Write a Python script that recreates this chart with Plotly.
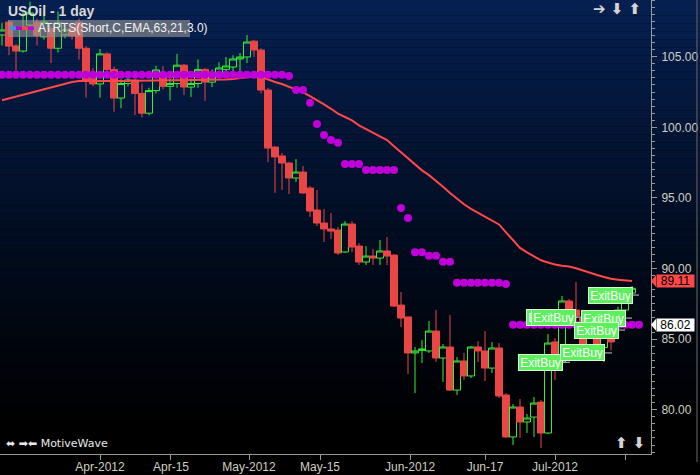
import plotly.graph_objects as go

# ---------------- data ----------------
bar_index = list(range(91))
opens = [106.54, 107.45, 105.76, 105.40, 107.24, 107.45, 106.40, 107.00, 105.60, 106.55,
         107.00, 107.45, 105.60, 103.50, 103.07, 105.20, 104.10, 102.07, 103.10, 103.35,
         102.40, 101.00, 102.60, 103.85, 102.90, 103.10, 104.40, 102.85, 103.10, 104.10,
         103.20, 103.56, 104.10, 104.27, 104.84, 104.98, 106.10, 105.47, 102.64, 98.60,
         97.97, 97.47, 96.41, 96.83, 95.70, 94.14, 93.22, 92.80, 92.72, 91.17,
         93.15, 91.59, 90.46, 90.88, 90.74, 91.24, 90.95, 87.41, 86.57, 84.02,
         84.20, 84.16, 85.57, 83.66, 84.44, 81.39, 83.45, 82.39, 84.44, 84.16,
         82.95, 84.37, 81.04, 78.07, 80.19, 79.13, 79.48, 80.54, 78.35, 84.80,
         83.38, 87.70, 87.06, 86.50, 84.30, 85.60, 84.40, 85.80, 85.80, 87.06,
         88.26]
highs = [107.40, 107.60, 105.90, 108.30, 108.90, 107.70, 108.20, 107.20, 108.20, 107.00,
         107.30, 107.70, 105.75, 104.20, 105.55, 105.30, 104.30, 103.40, 103.50, 103.45,
         103.10, 102.80, 104.34, 104.34, 103.50, 105.20, 104.50, 103.35, 104.80, 104.20,
         104.10, 104.60, 104.98, 105.10, 105.26, 106.54, 106.20, 105.60, 102.78, 98.65,
         98.18, 97.55, 97.75, 97.26, 95.84, 95.56, 94.21, 93.93, 92.94, 93.36,
         93.36, 91.80, 91.59, 91.38, 92.02, 92.23, 91.00, 88.34, 86.60, 84.44,
         84.93, 86.28, 87.06, 84.65, 86.71, 83.73, 84.02, 84.50, 84.86, 85.57,
         84.79, 84.72, 81.18, 80.40, 80.76, 79.70, 80.90, 80.70, 85.36, 85.08,
         88.05, 87.84, 89.04, 86.90, 86.00, 85.90, 86.20, 86.80, 87.30, 87.90,
         88.76]
lows = [105.80, 105.10, 103.90, 105.30, 107.10, 105.80, 106.20, 104.55, 105.30, 106.30,
        106.20, 104.80, 102.10, 102.90, 102.10, 103.90, 101.10, 101.35, 102.90, 100.87,
        100.70, 100.85, 102.40, 102.70, 101.90, 102.80, 102.30, 102.15, 102.80, 101.86,
        102.85, 103.35, 103.56, 103.85, 103.90, 104.55, 104.98, 102.40, 97.54, 95.35,
        95.56, 95.28, 96.13, 95.28, 93.65, 93.00, 91.88, 92.09, 90.96, 91.10,
        91.17, 90.25, 90.25, 90.25, 90.25, 90.25, 87.27, 85.86, 82.53, 81.18,
        83.30, 84.02, 83.38, 81.96, 81.32, 81.04, 82.10, 82.24, 83.38, 82.03,
        82.60, 80.83, 78.00, 77.50, 78.00, 78.35, 78.07, 77.29, 78.28, 82.10,
        83.30, 86.20, 86.00, 84.20, 83.90, 84.20, 83.38, 84.20, 85.50, 86.90,
        88.20]
closes = [106.89, 105.75, 105.40, 107.10, 108.10, 106.50, 107.45, 105.60, 107.40, 106.90,
          106.50, 105.60, 103.35, 103.07, 105.20, 104.10, 102.07, 103.10, 103.35, 102.40,
          101.00, 102.60, 104.06, 102.90, 103.10, 104.40, 102.85, 103.10, 104.10, 103.20,
          103.56, 104.20, 104.34, 104.84, 104.98, 106.04, 105.47, 102.64, 98.53, 97.90,
          97.47, 96.41, 96.83, 95.35, 94.07, 93.22, 92.80, 92.65, 91.10, 93.15,
          91.52, 90.46, 90.88, 90.74, 91.24, 90.88, 87.34, 86.49, 84.02, 84.16,
          84.30, 85.57, 83.66, 84.44, 81.39, 83.45, 82.39, 84.44, 84.16, 82.95,
          84.37, 80.97, 78.07, 80.19, 79.13, 79.41, 80.47, 78.35, 84.72, 83.30,
          87.70, 86.92, 86.64, 84.45, 85.50, 84.45, 85.70, 84.80, 87.06, 87.63,
          88.60]

ema_values = [101.92, 102.05, 102.17, 102.29, 102.42, 102.55, 102.68, 102.80, 102.92, 103.07,
              103.21, 103.28, 103.29, 103.29, 103.29, 103.28, 103.28, 103.28, 103.28, 103.28,
              103.28, 103.29, 103.31, 103.32, 103.33, 103.34, 103.34, 103.34, 103.35, 103.36,
              103.36, 103.38, 103.39, 103.42, 103.50, 103.59, 103.62, 103.58, 103.39, 103.21,
              103.07, 102.88, 102.70, 102.48, 102.20, 101.93, 101.62, 101.31, 100.97, 100.73,
              100.49, 100.14, 99.87, 99.62, 99.35, 99.10, 98.65, 98.21, 97.78, 97.34,
              96.95, 96.61, 96.22, 95.79, 95.35, 94.95, 94.55, 94.23, 93.96, 93.70,
              93.41, 93.12, 92.56, 91.99, 91.46, 91.14, 90.85, 90.58, 90.43, 90.28,
              90.20, 90.14, 90.02, 89.85, 89.69, 89.54, 89.40, 89.27, 89.21, 89.16,
              89.11]

atrts_index = list(range(92))
atrts_values = [103.72, 103.72, 103.72, 103.72, 103.72, 103.72, 103.72, 103.72, 103.72, 103.72,
                103.72, 103.72, 103.72, 103.72, 103.72, 103.72, 103.72, 103.72, 103.72, 103.72,
                103.72, 103.72, 103.72, 103.72, 103.72, 103.72, 103.72, 103.72, 103.72, 103.72,
                103.72, 103.72, 103.72, 103.72, 103.72, 103.72, 103.72, 103.72, 103.72, 103.72,
                103.72, 103.63, 102.64, 102.64, 101.74, 100.23, 99.45, 99.10, 98.91, 97.40,
                97.40, 97.40, 96.97, 96.97, 96.97, 96.97, 96.97, 94.28, 93.58, 91.15,
                91.15, 90.91, 90.91, 90.48, 90.48, 88.99, 88.99, 88.99, 88.99, 88.99,
                88.99, 88.99, 88.90, 86.02, 86.02, 86.02, 86.02, 86.02, 86.02, 86.02,
                86.02, 86.02, 86.02, 86.02, 86.02, 86.02, 86.02, 86.02, 86.02, 86.02,
                86.02, 86.02]

exit_bar = [82.2, 82.86, 81.14, 87.14, 90.0, 89.0, 91.0]
exit_price = [86.53, 86.56, 83.36, 84.02, 86.49, 85.64, 88.12]
exit_text = "ExitBuy"

date_tick_pos = [14.0, 24.14, 35.29, 45.43, 58.29, 69.0, 79.0, 89.0]
date_tick_text = ["Apr-2012", "Apr-15", "May-2012", "May-15", "Jun-2012", "Jun-17", "Jul-2012", ""]

last_ema = 89.11
last_stop = 86.02

title_text = "USOil - 1 day"
legend_text = "ATRTS(Short,C,EMA,63,21,3.0)"
brand_text = "MotiveWave"

# ---------------- figure ----------------
W, H = 700, 475
ML, MR, MT, MB = 0, 49, 0, 21
PW, PH = W - ML - MR, H - MT - MB

RED = "#ea4646"
GREEN = "#36ee36"
AXIS_TXT = "#cfcfc0"
AXIS_LINE = "#9a9a90"

fig = go.Figure()

fig.add_trace(go.Candlestick(
    x=bar_index, open=opens, high=highs, low=lows, close=closes,
    increasing=dict(line=dict(color=GREEN, width=1), fillcolor="rgba(0,0,0,0)"),
    decreasing=dict(line=dict(color=RED, width=1), fillcolor=RED),
    whiskerwidth=0, showlegend=False, hoverinfo="skip",
))

fig.add_trace(go.Scatter(
    x=bar_index, y=ema_values, mode="lines",
    line=dict(color="#ff4848", width=2), showlegend=False, hoverinfo="skip",
))

fig.add_trace(go.Scatter(
    x=atrts_index, y=atrts_values, mode="markers",
    marker=dict(color="#c000d8", size=8, line=dict(width=0)),
    showlegend=False, hoverinfo="skip",
))

# background gradient (styling bands)
shapes = []
N = 60
top = (6, 32, 82)
for k in range(N):
    y0p = k * (H / N)
    y1p = (k + 1) * (H / N)
    t = (y0p + y1p) / 2 / 440.0
    f = max(0.0, 1 - t) ** 1.15
    col = "rgb(%d,%d,%d)" % tuple(int(c * f) for c in top)
    shapes.append(dict(type="rect", xref="paper", yref="paper", layer="below",
                       x0=-0.01, x1=W / PW + 0.01,
                       y0=1 - y1p / PH, y1=1 - y0p / PH,
                       fillcolor=col, line=dict(width=0)))

def px_x(x):
    return (x - ML) / PW

def px_y(y):
    return 1 - (y - MT) / PH

# legend box and swatch
shapes.append(dict(type="rect", xref="paper", yref="paper", layer="above",
                   x0=px_x(8), x1=px_x(190), y0=px_y(37), y1=px_y(20),
                   fillcolor="rgba(150,150,150,0.62)", line=dict(width=0)))
for (a, b, c) in [(10, 16, "#3a90f0"), (16, 22, "#b000d0"), (22, 28, "#ff4040"), (28, 34, "#c000e0")]:
    shapes.append(dict(type="rect", xref="paper", yref="paper", layer="above",
                       x0=px_x(a), x1=px_x(b), y0=px_y(30), y1=px_y(26.5),
                       fillcolor=c, line=dict(width=0)))

# price flag pointers on right axis
for val, col in [(last_ema, "#ff4848"), (last_stop, "#ffffff")]:
    shapes.append(dict(type="path", xref="paper", yref="y", layer="above",
                       xsizemode="pixel", ysizemode="pixel", xanchor=1, yanchor=val,
                       path="M 0,0 L 5,6 L 5,-6 Z", fillcolor=col, line=dict(width=0)))

# outer frame line (right)
shapes.append(dict(type="line", xref="paper", yref="paper", layer="above",
                   x0=px_x(697), x1=px_x(697), y0=px_y(0), y1=px_y(462),
                   line=dict(color="#6a6a66", width=1)))

annotations = []
annotations.append(dict(xref="paper", yref="paper", x=px_x(6), y=px_y(11),
                        xanchor="left", yanchor="middle", showarrow=False,
                        text="<b>" + title_text + "</b>",
                        font=dict(family="Liberation Sans, Arial", size=14, color="#d8d8d8")))
annotations.append(dict(xref="paper", yref="paper", x=px_x(36), y=px_y(28.5),
                        xanchor="left", yanchor="middle", showarrow=False,
                        text=legend_text,
                        font=dict(family="Liberation Sans, Arial", size=12, color="#f2f2f2")))
annotations.append(dict(xref="paper", yref="paper", x=px_x(4), y=px_y(443),
                        xanchor="left", yanchor="middle", showarrow=False,
                        text="⬌ ➡⬅ " + brand_text,
                        font=dict(family="DejaVu Sans, Liberation Sans", size=11, color="#e8e8e8")))
annotations.append(dict(xref="paper", yref="paper", x=px_x(643), y=px_y(9),
                        xanchor="right", yanchor="middle", showarrow=False,
                        text="<b>➔ ⬇ ⬆</b>",
                        font=dict(family="DejaVu Sans", size=15, color="#d4d4d4")))
annotations.append(dict(xref="paper", yref="paper", x=px_x(647), y=px_y(443),
                        xanchor="right", yanchor="middle", showarrow=False,
                        text="<b>⬆ ⬇</b>",
                        font=dict(family="DejaVu Sans", size=15, color="#d4d4d4")))

for bx, pr in zip(exit_bar, exit_price):
    annotations.append(dict(x=bx, y=pr, xref="x", yref="y", text=exit_text,
                            showarrow=True, arrowhead=0, arrowwidth=1, arrowcolor="#c8c8c8",
                            ax=-29, ay=0, standoff=0,
                            bgcolor="#5df05d", bordercolor="#d8f5d8", borderwidth=1, borderpad=1,
                            width=41, height=13,
                            font=dict(family="Liberation Sans, Arial", size=12, color="#ffffff")))

for val, bg in [(last_ema, "#ff4848"), (last_stop, "#ffffff")]:
    annotations.append(dict(xref="paper", yref="y", x=1, y=val, xshift=5,
                            xanchor="left", yanchor="middle", showarrow=False,
                            text="%.2f" % val, bgcolor=bg, borderpad=0, width=37, height=12,
                            font=dict(family="Liberation Sans, Arial", size=12, color="#000000")))

ypx = 14.12
y_top = 105 + 56.7 / ypx
y_bot = y_top - PH / ypx
x_left = -2 / 7
x_right = (PW - 2) / 7

fig.update_layout(
    width=W, height=H,
    margin=dict(l=ML, r=MR, t=MT, b=MB, pad=0),
    paper_bgcolor="#000000", plot_bgcolor="rgba(0,0,0,0)",
    shapes=shapes, annotations=annotations,
    showlegend=False, boxgap=0.0, boxgroupgap=0,
    xaxis=dict(range=[x_left, x_right], rangeslider=dict(visible=False),
               tickmode="array", tickvals=date_tick_pos, ticktext=date_tick_text,
               ticks="outside", ticklen=5, tickcolor=AXIS_LINE, showgrid=False, zeroline=False,
               showline=True, linecolor=AXIS_LINE, linewidth=1, automargin=False,
               ticklabelstandoff=-3,
               tickfont=dict(family="Liberation Sans, Arial", size=12, color=AXIS_TXT)),
    yaxis=dict(range=[y_bot, y_top], side="right", tick0=0, dtick=5, tickformat=".2f",
               ticks="outside", ticklen=5, tickcolor=AXIS_LINE, showgrid=False, zeroline=False,
               showline=True, linecolor=AXIS_LINE, linewidth=1, ticklabelstandoff=2, automargin=False,
               minor=dict(dtick=0.5, ticks="outside", ticklen=3, tickcolor=AXIS_LINE, showgrid=False),
               tickfont=dict(family="Liberation Sans, Arial", size=12, color=AXIS_TXT)),
)

fig.write_html("out.html", config={"displayModeBar": False},
               post_script="document.body.style.margin='0px';")
